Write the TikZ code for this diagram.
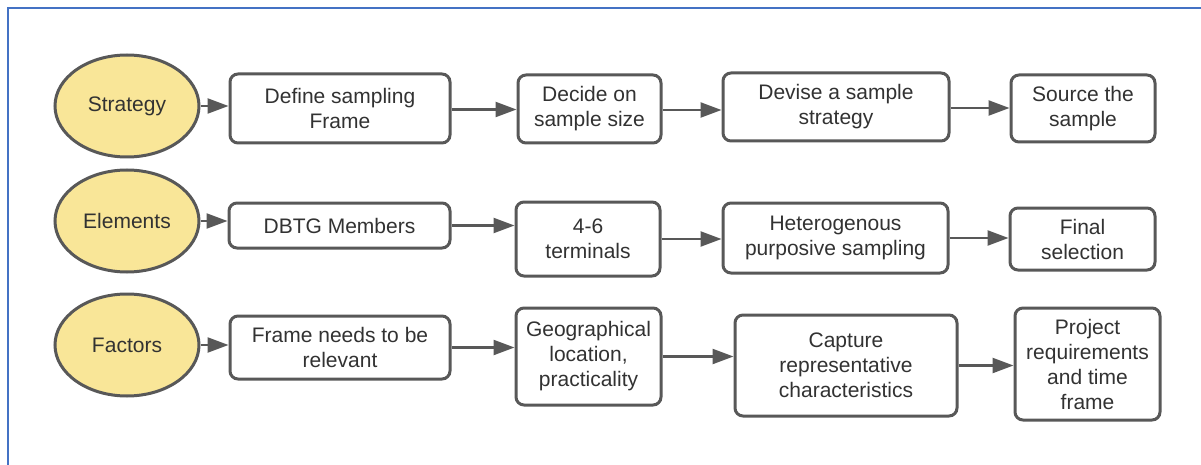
\documentclass[tikz,border=0pt]{standalone}
\usepackage{fontspec}
\setmainfont{Liberation Sans}
\usetikzlibrary{shapes.geometric,arrows.meta}
\definecolor{framegray}{RGB}{88,88,88}
\definecolor{txtgray}{RGB}{50,50,50}
\definecolor{ellfill}{RGB}{249,230,152}
\definecolor{borderblue}{RGB}{68,114,196}
\tikzset{
  oval/.style={ellipse, draw=framegray, line width=3pt, fill=ellfill, inner sep=0pt,
    minimum width=144pt, minimum height=102pt, text=txtgray,
    font=\fontsize{21}{25}\selectfont},
  stepbox/.style={rectangle, rounded corners=8pt, draw=framegray, line width=3pt,
    fill=white, inner sep=0pt, align=center, text=txtgray,
    font=\fontsize{21}{25}\selectfont},
  flow/.style={draw=framegray, line width=2.4pt, -{Triangle[length=21pt,width=15pt]}},
}
\newcommand{\boxat}[6]{% name, x1, y1, x2, y2, text
  \node[stepbox, minimum width={#4-#2}, minimum height={#5-#3}] (#1) at ({(#2+#4)/2},{(#3+#5)/2}) {#6};}
\begin{document}
\begin{tikzpicture}[x=1pt,y=-1pt]
\useasboundingbox (0,0) rectangle (1201,465);
\draw[borderblue, line width=2pt] (8,465) -- (8,8) -- (1201,8);

% Row 1
\node[oval] (e1) at (127,106) {Strategy};
\boxat{a1}{230}{74}{450}{143}{Define sampling\\Frame}
\boxat{a2}{518}{75}{661}{143}{Decide on\\sample size}
\boxat{a3}{723}{73}{949}{141}{Devise a sample\\strategy}
\boxat{a4}{1011}{75}{1155}{142}{Source the\\sample}

% Row 2
\node[oval] (e2) at (127,221) {Elements};
\boxat{b1}{229}{203}{450}{248}{DBTG Members}
\boxat{b2}{516}{202}{660}{276}{4-6\\terminals}
\boxat{b3}{723}{203}{948}{273}{Heterogenous\\purposive sampling}
\boxat{b4}{1010}{208}{1155}{270}{Final\\selection}

% Row 3
\node[oval] (e3) at (127,345) {Factors};
\boxat{c1}{230}{316}{450}{379}{Frame needs to be\\relevant}
\boxat{c2}{516}{308}{661}{405}{Geographical\\location,\\practicality}
\boxat{c3}{735}{315}{957}{416}{Capture\\representative\\characteristics}
\boxat{c4}{1015}{308}{1160}{420}{Project\\requirements\\and time\\frame}

% Arrows row 1
\draw[flow] (e1.east) -- (e1.east -| a1.west);
\draw[flow] ([yshift=-1pt]a1.east) -- ([yshift=-1pt]a1.east -| a2.west);
\draw[flow] ([yshift=-1pt]a2.east) -- ([yshift=-1pt]a2.east -| a3.west);
\draw[flow] ([yshift=-1pt]a3.east) -- ([yshift=-1pt]a3.east -| a4.west);

% Arrows row 2
\draw[flow] (e2.east) -- (e2.east -| b1.west);
\draw[flow] (b1.east) -- (b1.east -| b2.west);
\draw[flow] (b2.east) -- (b2.east -| b3.west);
\draw[flow] (b3.east) -- (b3.east -| b4.west);

% Arrows row 3
\draw[flow] (e3.east) -- (e3.east -| c1.west);
\draw[flow] (c1.east) -- (c1.east -| c2.west);
\draw[flow] (c2.east) -- (c2.east -| c3.west);
\draw[flow] (c3.east) -- (c3.east -| c4.west);
\end{tikzpicture}
\end{document}
